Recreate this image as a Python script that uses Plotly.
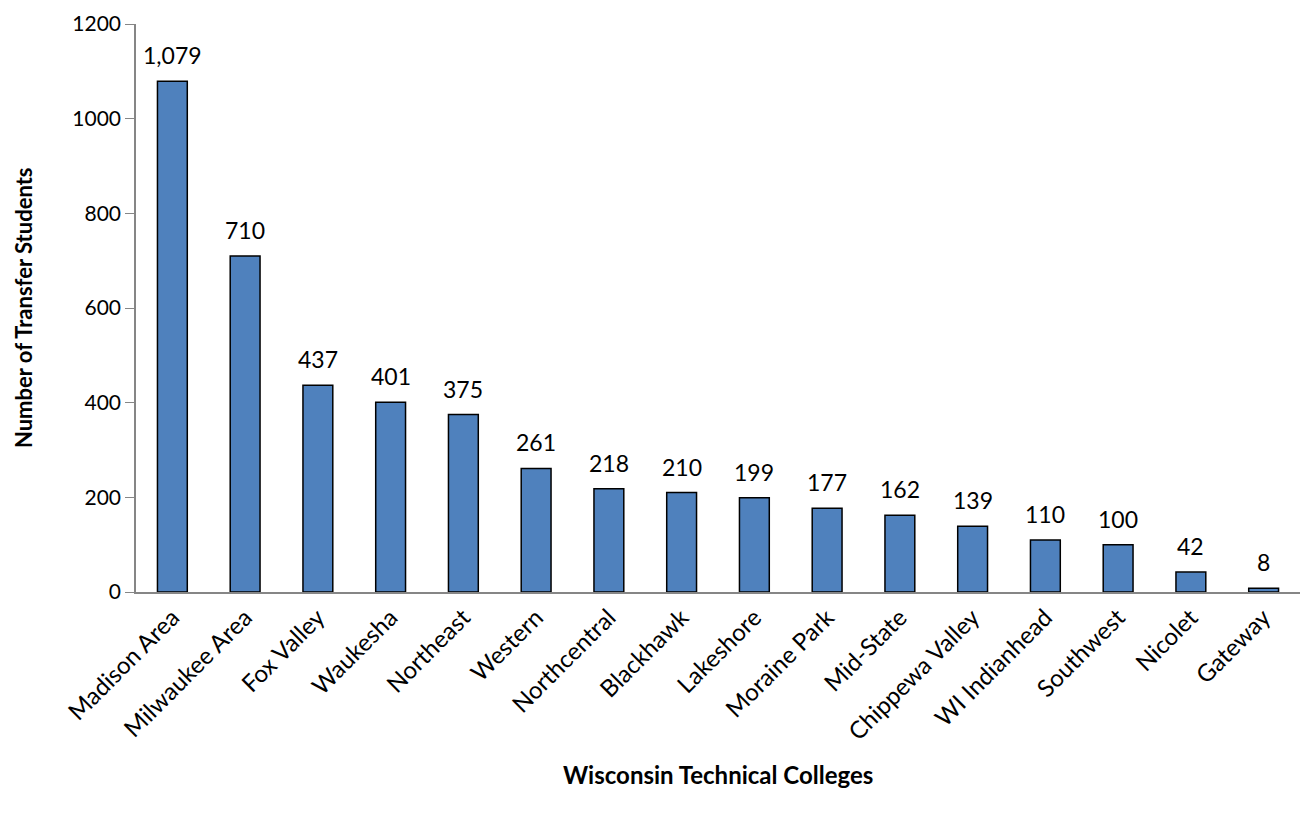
import plotly.graph_objects as go

colleges = ["Madison Area", "Milwaukee Area", "Fox Valley", "Waukesha", "Northeast",
            "Western", "Northcentral", "Blackhawk", "Lakeshore", "Moraine Park",
            "Mid-State", "Chippewa Valley", "WI Indianhead", "Southwest", "Nicolet", "Gateway"]
students = [1079, 710, 437, 401, 375, 261, 218, 210, 199, 177, 162, 139, 110, 100, 42, 8]
y_ticks = [0, 200, 400, 600, 800, 1000, 1200]

FONT = "Lato, Carlito, Calibri, sans-serif"

fig = go.Figure()
fig.add_trace(go.Bar(
    x=colleges, y=students,
    marker=dict(color="#4F81BD", line=dict(color="#000000", width=1.5)),
    hoverinfo="x+y",
))

annotations = []
for c, v in zip(colleges, students):
    annotations.append(dict(x=c, y=v, xref="x", yref="y", text=f"{v:,}",
                            showarrow=False, yanchor="bottom", yshift=10,
                            font=dict(family=FONT, size=23, color="#000000")))
annotations.append(dict(x=0.5, y=-0.322, xref="paper", yref="paper",
                        text="<b>Wisconsin Technical Colleges</b>", showarrow=False,
                        xanchor="center", yanchor="middle",
                        font=dict(family=FONT, size=24, color="#000000")))
annotations.append(dict(x=-0.097, y=0.5, xref="paper", yref="paper",
                        text="<b>Number of Transfer Students</b>", showarrow=False,
                        textangle=-90, xanchor="center", yanchor="middle",
                        font=dict(family=FONT, size=22, color="#000000")))

fig.update_layout(
    width=1300, height=809,
    margin=dict(l=128, r=8, t=16, b=225),
    paper_bgcolor="white", plot_bgcolor="white",
    bargap=0.59,
    showlegend=False,
    font=dict(family=FONT, size=22, color="#000000"),
    annotations=annotations,
    xaxis=dict(showline=True, linecolor="#868686", linewidth=2, ticks="",
               tickangle=-45, tickfont=dict(family=FONT, size=24),
               showgrid=False, automargin=False),
    yaxis=dict(range=[0, 1200], tickvals=y_ticks, ticktext=[str(t) for t in y_ticks],
               showline=True, linecolor="#868686", linewidth=1.5, ticks="outside",
               ticklen=9, tickcolor="#868686", showgrid=False, zeroline=False,
               tickfont=dict(family=FONT, size=21), automargin=False,
               ticklabeloverflow="allow"),
)

fig.write_html("out.html")
